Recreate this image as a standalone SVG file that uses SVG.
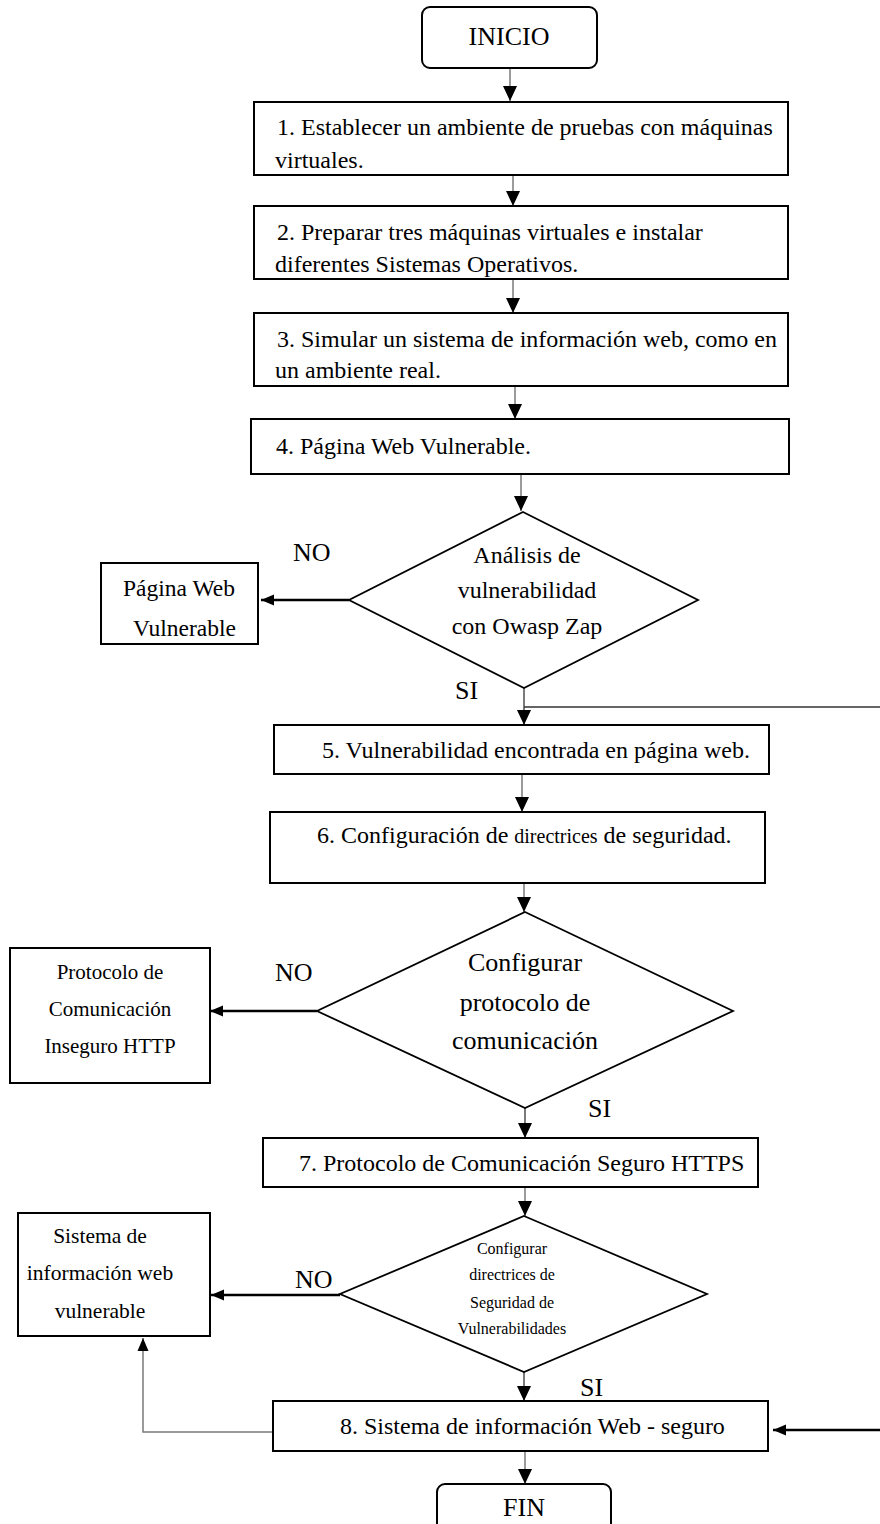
<svg xmlns="http://www.w3.org/2000/svg" width="880" height="1524" viewBox="0 0 880 1524" font-family="'Liberation Serif', 'DejaVu Serif', serif">
  <style>
    text { font-family: "Liberation Serif", "DejaVu Serif", serif; fill: #000; }
    .t24 { font-size: 24px; }
    .t26 { font-size: 26px; }
    .c { text-anchor: middle; }
    .box { fill: #fff; stroke: #000; stroke-width: 2; }
    .dia { fill: #fff; stroke: #000; stroke-width: 1.8; }
    .stem { fill: none; stroke: #7a7a7a; stroke-width: 1.5; }
    .thick { fill: none; stroke: #000; stroke-width: 2.6; }
    .thin { fill: none; stroke: #333; stroke-width: 1.3; }
  </style>
  <defs>
    <marker id="ah" markerUnits="userSpaceOnUse" markerWidth="16" markerHeight="16" viewBox="0 0 16 16" refX="15" refY="8" orient="auto">
      <path d="M0,1 L15,8 L0,15 Z" fill="#000"/>
    </marker>
    <marker id="ahs" markerUnits="userSpaceOnUse" markerWidth="14" markerHeight="14" viewBox="0 0 14 14" refX="13" refY="7" orient="auto">
      <path d="M0,1.5 L13,7 L0,12.5 Z" fill="#000"/>
    </marker>
  </defs>

  <!-- connectors -->
  <g id="connectors">
    <line class="stem" x1="510" y1="69" x2="510" y2="101" marker-end="url(#ah)"/>
    <line class="stem" x1="513" y1="176" x2="513" y2="206" marker-end="url(#ah)"/>
    <line class="stem" x1="513" y1="279" x2="513" y2="313" marker-end="url(#ah)"/>
    <line class="stem" x1="515" y1="386" x2="515" y2="419" marker-end="url(#ah)"/>
    <line class="stem" x1="521" y1="474" x2="521" y2="511" marker-end="url(#ah)"/>
    <line class="thin" x1="524" y1="688" x2="524" y2="725" stroke="#000" marker-end="url(#ah)"/>
    <line class="thin" x1="524" y1="707" x2="880" y2="707"/>
    <line class="stem" x1="522" y1="775" x2="522" y2="812" marker-end="url(#ah)"/>
    <line class="stem" x1="524" y1="880" x2="524" y2="912" marker-end="url(#ah)"/>
    <line class="thin" x1="525" y1="1108" x2="525" y2="1138" stroke="#000" marker-end="url(#ah)"/>
    <line class="stem" x1="525" y1="1188" x2="525" y2="1216" marker-end="url(#ah)"/>
    <line class="thin" x1="524" y1="1372" x2="524" y2="1401" stroke="#000" marker-end="url(#ah)"/>
    <line class="stem" x1="525" y1="1452" x2="525" y2="1484" marker-end="url(#ah)"/>
    <!-- NO branches -->
    <line class="thick" x1="349" y1="600" x2="261" y2="600" marker-end="url(#ahs)"/>
    <line class="thick" x1="317" y1="1011" x2="210" y2="1011" marker-end="url(#ahs)"/>
    <line class="thick" x1="340" y1="1295" x2="211" y2="1295" marker-end="url(#ahs)"/>
    <!-- return paths -->
    <polyline class="stem" points="273,1432 143,1432 143,1338" marker-end="url(#ahs)"/>
    <line class="thick" x1="880" y1="1430" x2="773" y2="1430" marker-end="url(#ahs)"/>
  </g>

  <g id="inicio">
    <rect class="box" x="422" y="7" width="175" height="61" rx="8"/>
    <text class="t26 c" x="509" y="45">INICIO</text>
  </g>

  <g id="paso1">
    <rect class="box" x="254" y="102" width="534" height="73"/>
    <text class="t24" x="277" y="135">1. Establecer un ambiente de pruebas con máquinas</text>
    <text class="t24" x="275" y="168">virtuales.</text>
  </g>

  <g id="paso2">
    <rect class="box" x="254" y="206" width="534" height="73"/>
    <text class="t24" x="277" y="240">2. Preparar tres máquinas virtuales e instalar</text>
    <text class="t24" x="275" y="272">diferentes Sistemas Operativos.</text>
  </g>

  <g id="paso3">
    <rect class="box" x="254" y="313" width="534" height="73"/>
    <text class="t24" x="277" y="347">3. Simular un sistema de información web, como en</text>
    <text class="t24" x="275" y="378">un ambiente real.</text>
  </g>

  <g id="paso4">
    <rect class="box" x="251" y="419" width="538" height="55"/>
    <text class="t24" x="276" y="454">4. Página Web Vulnerable.</text>
  </g>

  <g id="decision-analisis">
    <polygon class="dia" points="523,512 698,600 524,688 349,600"/>
    <text class="t24 c" x="527" y="563">Análisis de</text>
    <text class="t24 c" x="527" y="598">vulnerabilidad</text>
    <text class="t24 c" x="527" y="634">con Owasp Zap</text>
    <text class="t26" x="293" y="561">NO</text>
    <text class="t26" x="455" y="699">SI</text>
  </g>

  <g id="pagina-vulnerable">
    <rect class="box" x="101" y="563" width="157" height="81"/>
    <text style="font-size:23.5px" x="123" y="596">Página Web</text>
    <text style="font-size:23.5px" x="133" y="636">Vulnerable</text>
  </g>

  <g id="paso5">
    <rect class="box" x="274" y="725" width="495" height="49"/>
    <text class="t24" x="322" y="758">5. Vulnerabilidad encontrada en página web.</text>
  </g>

  <g id="paso6">
    <rect class="box" x="270" y="812" width="495" height="71"/>
    <text class="t24" x="317" y="843">6. Configuración de <tspan style="font-size:20px">directrices</tspan> de seguridad.</text>
  </g>

  <g id="decision-protocolo">
    <polygon class="dia" points="525,912 733,1011 525,1108 317,1011"/>
    <text class="t26 c" x="525" y="971">Configurar</text>
    <text class="t26 c" x="525" y="1011">protocolo de</text>
    <text class="t26 c" x="525" y="1049">comunicación</text>
    <text class="t26" x="275" y="981">NO</text>
    <text class="t26" x="588" y="1117">SI</text>
  </g>

  <g id="http-inseguro">
    <rect class="box" x="10" y="948" width="200" height="135"/>
    <text class="c" style="font-size:21px" x="110" y="979">Protocolo de</text>
    <text class="c" style="font-size:21px" x="110" y="1016">Comunicación</text>
    <text class="c" style="font-size:21px" x="110" y="1053">Inseguro HTTP</text>
  </g>

  <g id="paso7">
    <rect class="box" x="263" y="1138" width="495" height="49"/>
    <text class="t24" x="299" y="1171">7. Protocolo de Comunicación Seguro HTTPS</text>
  </g>

  <g id="decision-directrices">
    <polygon class="dia" points="524,1216 707,1294 524,1372 340,1294"/>
    <text class="c" style="font-size:16px" x="512" y="1254">Configurar</text>
    <text class="c" style="font-size:16px" x="512" y="1280">directrices de</text>
    <text class="c" style="font-size:16px" x="512" y="1308">Seguridad de</text>
    <text class="c" style="font-size:16px" x="512" y="1334">Vulnerabilidades</text>
    <text class="t26" x="295" y="1288">NO</text>
    <text class="t26" x="580" y="1396">SI</text>
  </g>

  <g id="sistema-vulnerable">
    <rect class="box" x="18" y="1213" width="192" height="123"/>
    <text class="c" style="font-size:21.5px" x="100" y="1243">Sistema de</text>
    <text class="c" style="font-size:21.5px" x="100" y="1280">información web</text>
    <text class="c" style="font-size:21.5px" x="100" y="1318">vulnerable</text>
  </g>

  <g id="paso8">
    <rect class="box" x="273" y="1401" width="495" height="50"/>
    <text class="t24" x="340" y="1434">8. Sistema de información Web - seguro</text>
  </g>

  <g id="fin">
    <rect class="box" x="437" y="1484" width="174" height="60" rx="8"/>
    <text class="t26 c" x="524" y="1516">FIN</text>
  </g>
</svg>
